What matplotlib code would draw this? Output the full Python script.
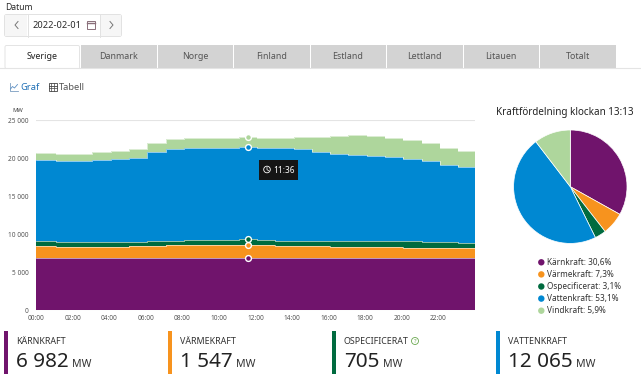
import numpy as np
import matplotlib
matplotlib.use('Agg')
import matplotlib.pyplot as plt
from matplotlib.patches import Rectangle, FancyBboxPatch, Circle

plt.rcParams['font.family'] = ['Noto Sans', 'DejaVu Sans']

# Hourly production, MW
karnkraft = [6950, 6950, 6950, 6950, 6950, 6950, 6950, 6950, 6950, 6950, 6950, 6950,
             6950, 6950, 6950, 6950, 6950, 6950, 6950, 6950, 6950, 6950, 6950, 6950]
varmekraft = [1490, 1450, 1430, 1430, 1450, 1490, 1550, 1620, 1630, 1650, 1660, 1660,
              1650, 1550, 1530, 1500, 1450, 1430, 1410, 1390, 1330, 1310, 1280, 1260]
ospecificerat = [700, 560, 580, 580, 570, 590, 680, 630, 720, 720, 720, 730,
                 710, 690, 700, 720, 740, 750, 770, 760, 810, 720, 720, 620]
vattenkraft = [10640, 10730, 10730, 10820, 10900, 10970, 11650, 12070, 12000, 12080, 12070, 12110,
               12050, 12130, 12000, 11620, 11470, 11350, 11140, 11120, 10870, 10630, 10130, 9990]
vindkraft = [880, 840, 880, 1010, 1090, 1180, 1190, 1270, 1330, 1230, 1280, 1310,
             1270, 1360, 1630, 2020, 2330, 2540, 2620, 2500, 2450, 2410, 2320, 2140]

names = ['Kärnkraft', 'Värmekraft', 'Ospecificerat', 'Vattenkraft', 'Vindkraft']
colors = ['#70146c', '#f7931e', '#006b3f', '#0088d2', '#aed69c']
pie_shares = [33.1, 6.4, 3.2, 46.9, 10.4]
pie_labels = ['30,6%', '7,3%', '3,1%', '53,1%', '5,9%']
card_names = ['KÄRNKRAFT', 'VÄRMEKRAFT', 'OSPECIFICERAT', 'VATTENKRAFT']
card_values = ['6 982', '1 547', '705', '12 065']
tabs = ['Sverige', 'Danmark', 'Norge', 'Finland', 'Estland', 'Lettland', 'Litauen', 'Totalt']
y_ticks = [0, 5000, 10000, 15000, 20000, 25000]
y_labels = ['0', '5 000', '10 000', '15 000', '20 000', '25 000']
x_ticks = list(range(0, 24, 2))
x_labels = ['%02d:00' % h for h in x_ticks]
marker_hour = 11.6
marker_label = '11:36'

W, H = 641, 374
fig = plt.figure(figsize=(W / 100, H / 100), dpi=100)

# page furniture is drawn in pixel coordinates
bg = fig.add_axes([0, 0, 1, 1])
bg.set_xlim(0, W)
bg.set_ylim(H, 0)
bg.axis('off')

txt = '#2a2a2a'
bg.text(5, 7, 'Datum', fontsize=6.2, color=txt, va='center')
bg.add_patch(FancyBboxPatch((4.5, 14.5), 117, 22, boxstyle='round,pad=0,rounding_size=2',
                            fc='white', ec='#e2e2e2', lw=0.7))
bg.add_patch(Rectangle((5, 15), 22, 21, fc='#f6f6f6', ec='none'))
bg.add_patch(Rectangle((100, 15), 21, 21, fc='#f6f6f6', ec='none'))
bg.plot([27.5, 27.5], [14.5, 36.5], color='#e2e2e2', lw=0.7)
bg.plot([99.5, 99.5], [14.5, 36.5], color='#e2e2e2', lw=0.7)
bg.plot([18, 15, 18], [21.5, 25, 28.5], color='#777777', lw=0.7)
bg.plot([110, 113, 110], [21.5, 25, 28.5], color='#777777', lw=0.7)
bg.text(32.5, 25.5, '2022-02-01', fontsize=6.7, color=txt, va='center')
bg.add_patch(Rectangle((87, 21), 8, 8, fc='none', ec='#8a6f7a', lw=0.7))
bg.plot([87, 95], [22.8, 22.8], color='#8a6f7a', lw=1)

# tabs
bg.plot([0, W], [67.5, 67.5], color='#e4e4e4', lw=0.8)
for i, name in enumerate(tabs):
    x0 = 5 + i * 76.5
    if i == 0:
        bg.add_patch(FancyBboxPatch((x0, 45.5), 74.5, 23, boxstyle='round,pad=0,rounding_size=1.5',
                                    fc='white', ec='#e4e4e4', lw=0.7))
        bg.add_patch(Rectangle((x0 + 0.5, 66.5), 73.5, 3, fc='white', ec='none'))
        bg.text(x0 + 37, 56.5, name, fontsize=6.4, color='#222222', ha='center', va='center')
    else:
        bg.add_patch(Rectangle((x0 - 0.5, 45), 75.5, 23, fc='#d3d3d3', ec='none'))
        bg.text(x0 + 37, 56.5, name, fontsize=6.4, color='#555555', ha='center', va='center')

# Graf / Tabell switch
bg.plot([9.5, 9.5, 18], [83, 90.5, 90.5], color='#7a9cc0', lw=0.6)
bg.plot([10.5, 12.5, 14.5, 17.5], [89, 86.5, 88, 84.5], color='#5b8fc4', lw=0.6)
bg.text(20.5, 87, 'Graf', fontsize=6.7, color='#1f6fb5', va='center', fontweight='semibold')
bg.add_patch(Rectangle((48.5, 83), 8.5, 7.5, fc='none', ec='#444444', lw=0.6))
bg.plot([48.5, 57], [85.5, 85.5], color='#444444', lw=0.6)
bg.plot([48.5, 57], [88, 88], color='#444444', lw=0.5)
bg.plot([51.3, 51.3], [83, 90.5], color='#444444', lw=0.5)
bg.plot([54.2, 54.2], [83, 90.5], color='#444444', lw=0.5)
bg.text(59, 87, 'Tabell', fontsize=6.7, color='#555555', va='center')

bg.text(18, 110.5, 'MW', fontsize=4.2, color='#444444', ha='center', va='center')
bg.text(564.5, 112, 'Kraftfördelning klockan 13:13', fontsize=7.1, color='#222222',
        ha='center', va='center')

# stacked step chart
ax = fig.add_axes([36 / W, (H - 310.5) / H, 439 / W, 190.2 / H])
ax.patch.set_alpha(0)
ax.set_xlim(0, 24)
ax.set_ylim(0, 25000)
for s in ax.spines.values():
    s.set_visible(False)
ax.set_yticks(y_ticks)
ax.set_yticklabels(y_labels)
ax.set_xticks(x_ticks)
ax.set_xticklabels(x_labels)
ax.tick_params(length=0, labelsize=4.7, labelcolor='#555555', pad=3.5)
ax.tick_params(axis='y', pad=5.5)
ax.grid(axis='y', color='#e4e4e4', lw=0.8)
ax.set_axisbelow(True)

series = np.array([karnkraft, varmekraft, ospecificerat, vattenkraft, vindkraft], dtype=float)
tops = np.cumsum(series, axis=0)
# steps fall just after the full hour
edges = np.arange(25) + 0.08
edges[0] = 0
edges[-1] = 24
bottom = np.zeros(25)
for row, c in zip(tops, colors):
    top = np.append(row, row[-1])
    ax.fill_between(edges, bottom, top, step='post', color=c, lw=0)
    ax.step(edges, top, where='post', color='white', lw=0.5, alpha=0.8)
    bottom = top

# hover markers
for row, c in zip(tops, colors):
    ax.plot(marker_hour, row[int(marker_hour)], 'o', ms=4.2, mfc=c, mec='white', mew=1,
            clip_on=False, zorder=5)

# tooltip
bg_tip = fig.add_axes([0, 0, 1, 1], zorder=6)
bg_tip.set_xlim(0, W)
bg_tip.set_ylim(H, 0)
bg_tip.axis('off')
bg_tip.add_patch(Rectangle((258.7, 160), 39, 20, fc='#151515', ec='none'))
bg_tip.add_patch(Circle((267, 169.5), 3.3, fc='none', ec='white', lw=0.6))
bg_tip.plot([267, 267, 268.8], [167.4, 169.7, 170.8], color='white', lw=0.5)
bg_tip.text(272.8, 170, marker_label, fontsize=6, color='white', va='center')

# pie
r = 56.7
pie_ax = fig.add_axes([(570.3 - r) / W, (H - 186.7 - r) / H, 2 * r / W, 2 * r / H])
pie_ax.pie(pie_shares, colors=colors, startangle=90, counterclock=False, radius=1,
           wedgeprops={'edgecolor': 'white', 'linewidth': 0.5})
pie_ax.set_xlim(-1, 1)
pie_ax.set_ylim(-1, 1)

# pie legend
for i, (name, label, c) in enumerate(zip(names, pie_labels, colors)):
    y = 262.3 + i * 12.1
    bg.add_patch(Circle((541.3, y), 3.2, fc=c, ec='none'))
    bg.text(547.3, y + 0.3, name + ': ' + label, fontsize=5.95, color='#333333', va='center')

# value cards
for i, (name, value, c) in enumerate(zip(card_names, card_values, colors)):
    x0 = [4.3, 168.3, 332, 496][i]
    bg.add_patch(Rectangle((x0, 331), 4, 43, fc=c, ec='none'))
    bg.text(x0 + 11.7, 341.3, name, fontsize=6.4, color='#333333', va='center')
    t = bg.text(x0 + 11.7, 366.7, value, fontsize=14.9, color='#222222', va='baseline')
    fig.canvas.draw()
    bb = t.get_window_extent()
    bg.text(bb.x1 + 3.5, 366.7, 'MW', fontsize=7.6, color='#333333', va='baseline')

# help icon next to OSPECIFICERAT
bg.add_patch(Circle((415, 341), 3.5, fc='none', ec='#6aa84f', lw=0.6))
bg.text(415, 341.2, '?', fontsize=4.3, color='#6aa84f', ha='center', va='center')

fig.savefig('out.png', dpi=100)
